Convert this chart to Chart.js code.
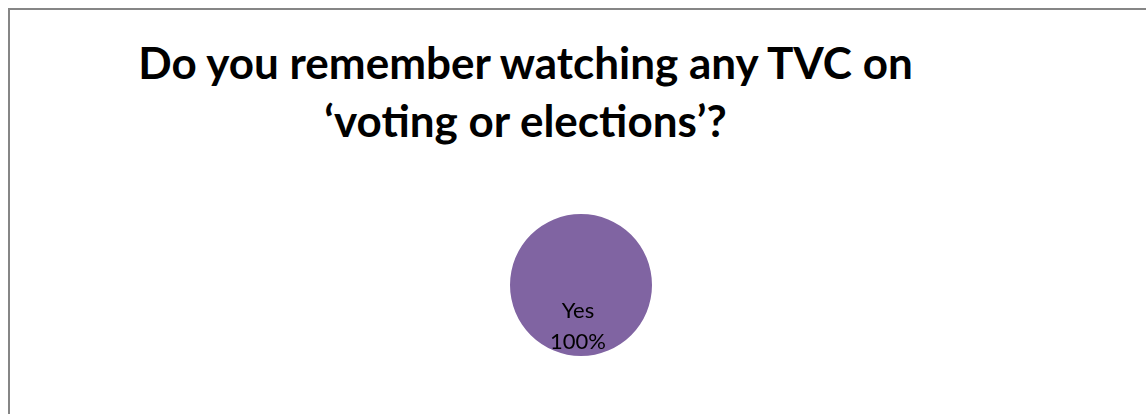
<!DOCTYPE html>
<html>
<head>
<meta charset="utf-8">
<title>TVC recall</title>
<script src="https://cdn.jsdelivr.net/npm/chart.js@4"></script>
<style>
  html, body { margin: 0; padding: 0; background: #fff; overflow: hidden; }
  body { width: 1146px; height: 414px; position: relative; }
  #frame {
    position: absolute; left: 8px; top: 8px;
    width: 1200px; height: 500px;
    border: 2px solid #868686;
  }
  #title {
    position: absolute; left: 0; top: 33px; width: 1051px;
    margin: 0; text-align: center;
    font: bold 44px Lato, "Open Sans", sans-serif;
    line-height: 58px; color: #000;
  }
  #pieBox { position: absolute; left: 431px; top: 185px; width: 300px; height: 200px; }
</style>
</head>
<body>
<div id="frame"></div>
<h1 id="title">Do you remember watching any TVC on<br>‘voting or elections’?</h1>
<div id="pieBox"><canvas id="pieChart" width="300" height="200"></canvas></div>
<script>
  const answers = ["Yes"];
  const shares = [100];
  const sliceColors = ["#8064A2"];

  // writes category and percentage inside each slice
  const sliceLabels = {
    id: "sliceLabels",
    afterDatasetsDraw(chart) {
      const ctx = chart.ctx;
      const meta = chart.getDatasetMeta(0);
      ctx.save();
      ctx.fillStyle = "#000";
      ctx.font = "22px Lato, 'Open Sans', sans-serif";
      ctx.textAlign = "center";
      ctx.textBaseline = "alphabetic";
      meta.data.forEach((arc, i) => {
        const pos = arc.tooltipPosition();
        ctx.fillText(answers[i], pos.x - 3, pos.y - 3);
        ctx.fillText(shares[i] + "%", pos.x - 3, pos.y + 28);
      });
      ctx.restore();
    },
  };

  new Chart(document.getElementById("pieChart"), {
    type: "pie",
    data: {
      labels: answers,
      datasets: [
        {
          data: shares,
          backgroundColor: sliceColors,
          borderWidth: 0,
        },
      ],
    },
    options: {
      responsive: false,
      animation: false,
      layout: { padding: { top: 29, bottom: 29 } },
      plugins: {
        legend: { display: false },
        tooltip: { enabled: false },
        title: { display: false },
      },
    },
    plugins: [sliceLabels],
  });
</script>
</body>
</html>
